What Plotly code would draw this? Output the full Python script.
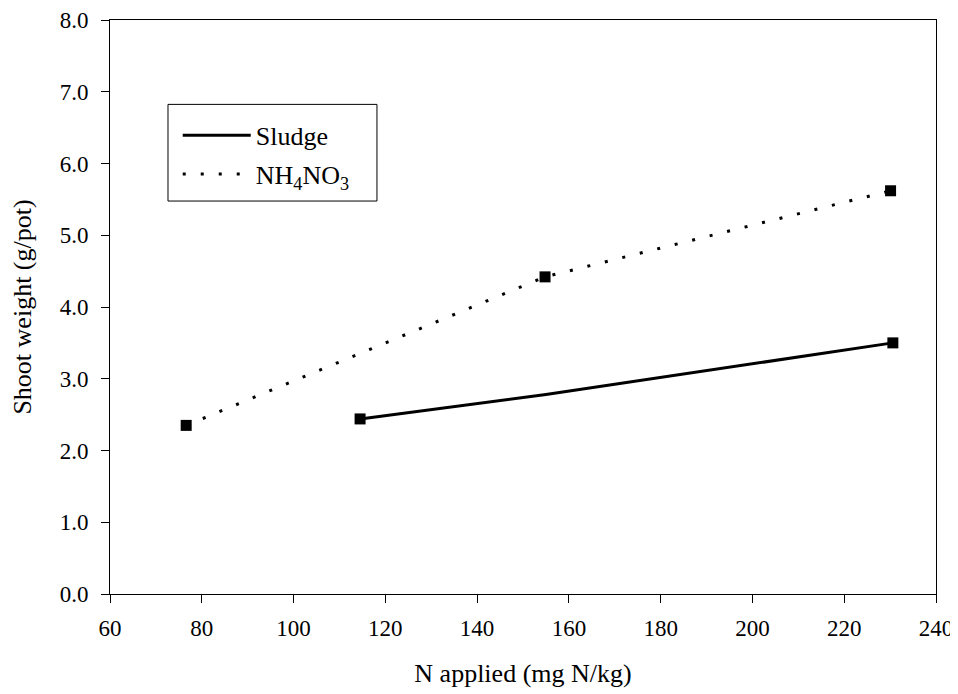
import plotly.graph_objects as go

# Sludge series (line passes through an intermediate point without a marker)
sludge_line_x = [114.5, 155.0, 230.6]
sludge_line_y = [2.44, 2.78, 3.50]
sludge_pts_x = [114.5, 230.6]
sludge_pts_y = [2.44, 3.50]

# NH4NO3 series
nh4_x = [76.6, 154.8, 230.1]
nh4_y = [2.35, 4.42, 5.62]

x_ticks = [60, 80, 100, 120, 140, 160, 180, 200, 220, 240]
y_ticks = [0, 1, 2, 3, 4, 5, 6, 7, 8]
y_tick_labels = ["0.0", "1.0", "2.0", "3.0", "4.0", "5.0", "6.0", "7.0", "8.0"]

FONT = "Liberation Serif"

fig = go.Figure()
fig.add_trace(go.Scatter(
    x=sludge_line_x, y=sludge_line_y, mode="lines", name="Sludge",
    line=dict(color="black", width=3), legendgroup="a",
))
fig.add_trace(go.Scatter(
    x=nh4_x, y=nh4_y, mode="lines", name="NH<sub>4</sub>NO<sub>3</sub>",
    line=dict(color="black", width=3, dash="3px,15px"), legendgroup="b",
))
fig.add_trace(go.Scatter(
    x=sludge_pts_x, y=sludge_pts_y, mode="markers", showlegend=False,
    marker=dict(symbol="square", size=11, color="black", line=dict(width=0)),
))
fig.add_trace(go.Scatter(
    x=nh4_x, y=nh4_y, mode="markers", showlegend=False,
    marker=dict(symbol="square", size=11, color="black", line=dict(width=0)),
))

fig.update_layout(
    width=950, height=686,
    margin=dict(l=102, r=22, t=12, b=100),
    paper_bgcolor="white", plot_bgcolor="white",
    font=dict(family=FONT, size=23, color="black"),
    showlegend=True,
    legend=dict(
        x=0.082, y=0.840, xanchor="left", yanchor="top",
        borderwidth=0, bgcolor="rgba(0,0,0,0)",
        font=dict(family=FONT, size=26, color="black"),
        itemwidth=68, tracegroupgap=2,
    ),
    shapes=[dict(
        type="rect", xref="paper", yref="paper",
        x0=0.0702, x1=0.3232, y0=0.6846, y1=0.8530,
        line=dict(color="black", width=1), fillcolor="white", layer="below",
    )],
    xaxis=dict(
        range=[60, 240], tickvals=x_ticks, ticktext=[str(v) for v in x_ticks],
        ticks="outside", ticklen=8, tickwidth=1, tickcolor="black",
        showline=True, linecolor="black", linewidth=1, mirror=True,
        showgrid=False, zeroline=False, automargin=False,
        ticklabelstandoff=5, ticklabeloverflow="allow",
        title=dict(text="N applied (mg N/kg)", font=dict(family=FONT, size=26), standoff=24),
        tickfont=dict(family=FONT, size=23),
    ),
    yaxis=dict(
        range=[0, 8], tickvals=y_ticks, ticktext=y_tick_labels,
        ticks="outside", ticklen=8, tickwidth=1, tickcolor="black",
        showline=True, linecolor="black", linewidth=1, mirror=True,
        showgrid=False, zeroline=False, automargin=False,
        ticklabelstandoff=8, ticklabeloverflow="allow",
        title=dict(text="Shoot weight (g/pot)", font=dict(family=FONT, size=26), standoff=22),
        tickfont=dict(family=FONT, size=23),
    ),
)

fig.write_html("out.html")
